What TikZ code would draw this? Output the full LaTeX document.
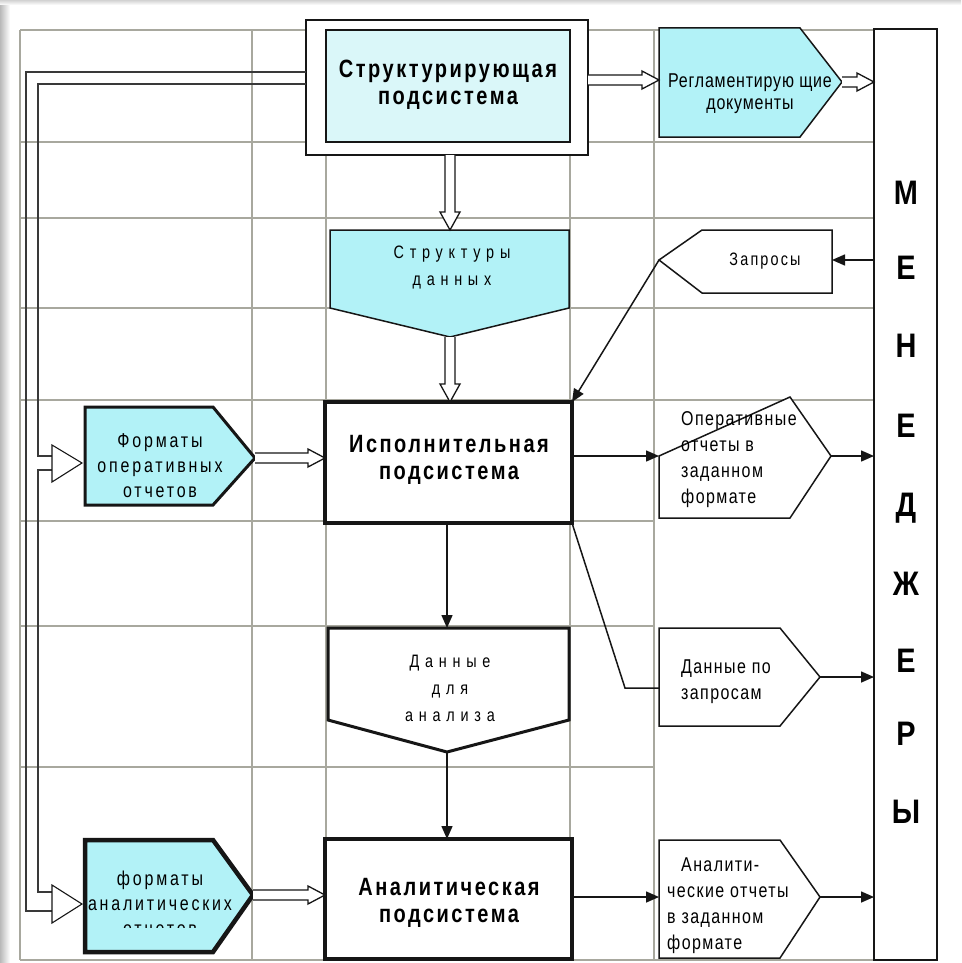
\documentclass[tikz,border=0pt]{standalone}
\usepackage{fontspec}
\setmainfont{Liberation Sans}
\newfontfamily\ftitle[FakeStretch=0.8,LetterSpace=10]{Liberation Sans}
\newfontfamily\fsmall[FakeStretch=0.8,LetterSpace=7]{Liberation Sans}
\newfontfamily\fregl[FakeStretch=0.8,LetterSpace=4]{Liberation Sans}
\newfontfamily\fwide[FakeStretch=0.8,LetterSpace=14]{Liberation Sans}
\newfontfamily\fspace[FakeStretch=0.8,LetterSpace=32]{Liberation Sans}
\newfontfamily\fzap[FakeStretch=0.8,LetterSpace=12]{Liberation Sans}
\newfontfamily\fmen[FakeStretch=0.85]{Liberation Sans}
\usetikzlibrary{arrows.meta,calc}
\definecolor{gridc}{RGB}{168,168,158}
\definecolor{cyanf}{RGB}{178,242,247}
\definecolor{cyanl}{RGB}{218,247,249}
\definecolor{ink}{RGB}{22,22,22}
\newcommand\hdbl[2]{\draw[dbl] let \p1=#1, \p2=#2 in
  (\x1,\y1+5pt) -- (\x2-17pt,\y1+5pt) -- (\x2-17pt,\y1+9pt) -- (\x2,\y1)
  -- (\x2-17pt,\y1-9pt) -- (\x2-17pt,\y1-5pt) -- (\x1,\y1-5pt);}
\newcommand\vdbl[2]{\draw[dbl] let \p1=#1, \p2=#2 in
  (\x1-5pt,\y1) -- (\x1-5pt,\y2+18pt) -- (\x1-10pt,\y2+18pt) -- (\x1,\y2)
  -- (\x1+10pt,\y2+18pt) -- (\x1+5pt,\y2+18pt) -- (\x1+5pt,\y1);}
\begin{document}
\begin{tikzpicture}[x=1pt,y=-1pt,
  gridline/.style={draw=gridc,line width=1.3},
  thinline/.style={draw=ink,line width=1.5},
  arr/.style={draw=ink,line width=1.5,-{Triangle[length=13pt,width=11pt]}},
  dbl/.style={draw=ink,line width=1.3,fill=white},
  pipe/.style={draw=ink!85,line width=2},
  hollow/.style={draw=ink,line width=1.1,fill=white},
  boxn/.style={draw=ink,outer sep=0pt,inner sep=0pt,align=center},
  title/.style={font={\ftitle\bfseries\fontsize{25}{27}\selectfont},align=center,inner sep=0pt},
  small/.style={font={\fsmall\fontsize{20}{26}\selectfont},inner sep=0pt},
  spaced/.style={font={\fspace\fontsize{18}{27}\selectfont},align=center,inner sep=0pt},
  menl/.style={font={\fmen\bfseries\fontsize{34}{34}\selectfont},inner sep=0pt}]
\useasboundingbox (0,0) rectangle (961,963);
\fill[white] (0,0) rectangle (961,963);
\shade[left color=gray!55,right color=white] (0,0) rectangle (10,963);
\shade[top color=gray!35,bottom color=white] (0,0) rectangle (961,5);

% grid
\foreach \x in {20,252,326,570,654} \draw[gridline] (\x,30) -- (\x,960);
\foreach \y in {30,142,218,308,400,960} \draw[gridline] (20,\y) -- (875,\y);
\foreach \y in {521,626,767} \draw[gridline] (20,\y) -- (654,\y);

% structuring subsystem
\node[boxn,line width=2,fill=white,minimum width=282,minimum height=135] (structo) at (447,87.5) {};
\node[boxn,line width=2,fill=cyanl,minimum width=244,minimum height=112] (struct) at (448,86) {};
\node[title] (structt) at (448,85) {Структурирующая\\подсистема};

% left pipe
\coordinate (p1) at (structo.west |- 0,72);
\coordinate (p2) at (structo.west |- 0,84);
\coordinate (tri1) at (82,463);
\coordinate (tri2) at (82,904);
\draw[pipe] (p1) -- (26,72) -- (26,911) -- (52,911);
\draw[pipe] (p2) -- (38,84) -- (38,456) -- (52,456);
\draw[pipe] (52,470) -- (38,470) -- (38,892) -- (52,892);
\draw[hollow] (52,445) -- (tri1) -- (52,482) -- cycle;
\draw[hollow] (52,885) -- (tri2) -- (52,923) -- cycle;

% reglament documents
\coordinate (regw) at (659,82);
\coordinate (rege) at (842,82);
\draw[thinline,fill=cyanf] (659,28) -- (800,28) -- (rege) -- (800,137) -- (659,137) -- cycle;
\node[inner sep=0pt,align=center,font={\fregl\fontsize{20}{22}\selectfont}] (regt) at (750,94) {Регламентирую щие\\документы};

% structures of data
\coordinate (strn) at (450,230);
\coordinate (strs) at (450,337);
\draw[thinline,fill=cyanf] (330,230) -- (569,230) -- (569,308) -- (strs) -- (330,308) -- cycle;
\node[spaced] (strt) at (452,268) {Структуры\\данных};

% requests
\coordinate (zapw) at (659,260);
\coordinate (zape) at (832,260);
\draw[thinline,fill=white] (zapw) -- (702,230) -- (832,230) -- (832,293) -- (702,293) -- cycle;
\node[inner sep=0pt,font={\fzap\fontsize{18}{20}\selectfont}] (zapt) at (765,261) {Запросы};

% executive subsystem
\node[boxn,line width=4,fill=white,minimum width=247,minimum height=121] (isp) at (448.5,462.5) {};
\node[title] (ispt) at (449,460) {Исполнительная\\подсистема};

% formats of operative reports
\coordinate (fope) at (255,458);
\draw[draw=ink,line width=3,fill=cyanf] (85,407) -- (213,407) -- (fope) -- (213,505) -- (85,505) -- cycle;
\node[inner sep=0pt,align=center,font={\fwide\fontsize{20}{25}\selectfont}] (fopt) at (160,466) {Форматы\\оперативных\\отчетов};

% operative reports
\coordinate (opw) at (659,456);
\coordinate (ope) at (831,456);
\draw[thinline,fill=white] (opw) -- (790,397) -- (ope) -- (790,518) -- (659,518) -- cycle;
\node[small,align=left,anchor=west] (opt) at (681,460) {Оперативные\\отчеты в\\заданном\\формате};

% data for analysis
\coordinate (dann) at (447,628);
\coordinate (dans) at (447,752);
\draw[draw=ink,line width=3,fill=white] (328,628) -- (569,628) -- (569,720) -- (dans) -- (328,720) -- cycle;
\node[spaced] (dant) at (450,688) {Данные\\для\\анализа};

% data on requests
\coordinate (dzw) at (659,688);
\coordinate (dze) at (820,677);
\draw[thinline,fill=white] (659,628) -- (780,628) -- (dze) -- (780,726) -- (659,726) -- cycle;
\node[small,align=left,anchor=west] (dzt) at (681,682) {Данные по\\запросам};

% analytic subsystem
\node[boxn,line width=4,fill=white,minimum width=247,minimum height=120] (anal) at (448.5,899) {};
\node[title] (analt) at (449,903) {Аналитическая\\подсистема};

% formats of analytic reports
\coordinate (fane) at (253,895);
\draw[draw=ink,line width=4.5,fill=cyanf] (85,840) -- (213,840) -- (fane) -- (213,952) -- (85,952) -- cycle;
\begin{scope}
\clip (80,836) rectangle (260,927);
\node[inner sep=0pt,align=center,font={\fwide\fontsize{20}{25}\selectfont}] (fant) at (160,903) {форматы\\аналитических\\отчетов};
\end{scope}

% analytic reports
\coordinate (arw) at (659,897);
\coordinate (are) at (820,897);
\draw[thinline,fill=white] (659,840) -- (780,840) -- (are) -- (780,958) -- (659,958) -- cycle;
\node[small,align=left,anchor=west] (art) at (667,906) {\hspace*{14pt}Аналити-\\ческие отчеты\\в заданном\\формате};

% managers
\node[boxn,line width=2,fill=white,minimum width=63,minimum height=931] (men) at (905.5,494.5) {};
\foreach \ch/\yy in {М/193,Е/268,Н/346,Е/426,Д/508,Ж/584,Е/661,Р/734,Ы/812}
  \node[menl] at (906,\yy) {\ch};

% double arrows
\vdbl{(structo.south -| 450,0)}{(strn)}
\vdbl{(strs)}{(isp.north -| 450,0)}
\hdbl{(structo.east |- 0,80)}{(regw |- 0,80)}
\hdbl{(rege)}{(men.west |- 0,82)}
\hdbl{(fope)}{(isp.west |- 0,459)}
\hdbl{(fane)}{(anal.west |- 0,894)}

% thin arrows
\draw[arr] (men.west |- zape) -- (zape);
\draw[arr] (zapw) -- (isp.north east);
\draw[arr] (isp.east |- opw) -- (opw);
\draw[arr] (ope) -- (men.west |- ope);
\draw[arr] (isp.south -| dann) -- (dann);
\draw[arr] (dans) -- (anal.north -| dans);
\draw[thinline] (isp.south east) -- (625,688) -- (dzw);
\draw[arr] (dze) -- (men.west |- dze);
\draw[arr] (anal.east |- arw) -- (arw);
\draw[arr] (are) -- (men.west |- are);
\end{tikzpicture}
\end{document}
